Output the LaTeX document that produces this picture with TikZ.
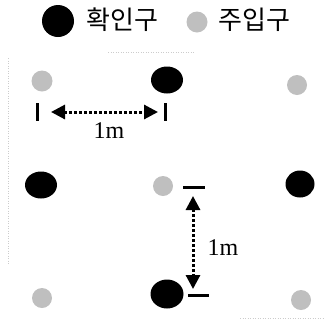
\documentclass[tikz,border=0pt]{standalone}
\usepackage{fontspec}
\setmainfont{Liberation Serif}
\newfontfamily\kor{Noto Sans CJK KR}
\usetikzlibrary{arrows.meta,shapes.geometric}
\begin{document}
\begin{tikzpicture}[x=1pt,y=-1pt,
  blackhole/.style={ellipse,fill=black,inner sep=0pt,minimum width=32pt,minimum height=27pt},
  greyhole/.style={circle,fill=gray!50,inner sep=0pt,minimum size=21pt},
  tick/.style={line width=3pt},
  dimarrow/.style={line width=3pt,dash pattern=on 3pt off 2pt,{Triangle[width=14pt,length=14pt]}-{Triangle[width=14pt,length=14pt]}},
  faint/.style={gray!40,dotted,line width=0.5pt},
  lbl/.style={font=\fontsize{24}{24}\selectfont,inner sep=0pt},
  klbl/.style={font=\kor\fontsize{26}{26}\selectfont,inner sep=0pt}]
\useasboundingbox (0,0) rectangle (331,322);
% legend
\node[circle,fill=black,inner sep=0pt,minimum size=32pt] (lb) at (58,21) {};
\node[klbl,anchor=west] (lbt) at (86,20) {확인구};
\node[greyhole,minimum size=21pt] (lg) at (197,22) {};
\node[klbl,anchor=west] (lgt) at (218,20) {주입구};
% faint frame remnants
\draw[faint] (108,52) -- (195,52);
\draw[faint] (8,58) -- (8,265);
\draw[faint] (240,318) -- (323,318);
% row 1
\node[greyhole] (g11) at (42,81) {};
\node[blackhole] (b12) at (167,80) {};
\node[greyhole,minimum size=20pt] (g13) at (297,85) {};
% row 2
\node[blackhole] (b21) at (41,185) {};
\node[greyhole,minimum size=20pt] (g22) at (163,186) {};
\node[blackhole,minimum width=29pt] (b23) at (300,184) {};
% row 3
\node[greyhole,minimum size=20pt] (g31) at (42,298) {};
\node[blackhole,minimum width=33pt,minimum height=29pt] (b32) at (167,294) {};
\node[greyhole,minimum size=20pt] (g33) at (301,300) {};
% horizontal dimension
\coordinate (t1a) at (37,103); \coordinate (t1b) at (37,121);
\coordinate (t2a) at (165,103); \coordinate (t2b) at (165,121);
\draw[tick] (t1a) -- (t1b);
\draw[tick] (t2a) -- (t2b);
\coordinate (ha) at (51,112); \coordinate (hb) at (158,112);
\draw[dimarrow] (ha) -- (hb);
\node[lbl] (l1) at (109,131) {1m};
% vertical dimension
\coordinate (v1a) at (183,187); \coordinate (v1b) at (205,187);
\coordinate (v2a) at (188,295); \coordinate (v2b) at (209,295);
\draw[tick] (v1a) -- (v1b);
\draw[tick] (v2a) -- (v2b);
\coordinate (va) at (193,196); \coordinate (vb) at (193,289);
\draw[dimarrow] (va) -- (vb);
\node[lbl] (l2) at (223,248) {1m};
\end{tikzpicture}
\end{document}
